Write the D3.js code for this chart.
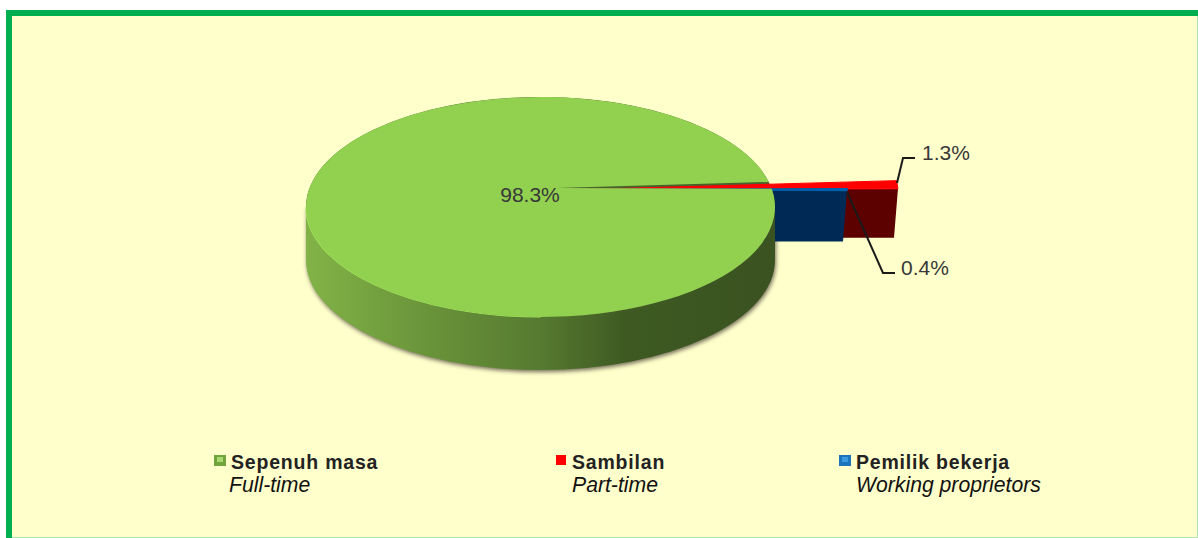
<!DOCTYPE html>
<html><head><meta charset="utf-8">
<script src="https://cdn.jsdelivr.net/npm/d3@7"></script>
<style>html,body{margin:0;padding:0;background:#fff;overflow:hidden}svg{display:block}text{font-family:"Liberation Sans",Arial,sans-serif}</style>
</head><body><svg id="c" width="1198" height="538"></svg>
<script>
const categories=["Sepenuh masa","Sambilan","Pemilik bekerja"];
const translations=["Full-time","Part-time","Working proprietors"];
const values=[98.3,1.3,0.4];
const valueLabels=["98.3%","1.3%","0.4%"];
const topColors=["#92d050","#ff0000","#0062ad"];
const sideColors=["#3c5520","#5c0000","#002b57"];

const svg=d3.select("#c");
const W=1198,H=538;
const defs=svg.append("defs");
const grad=defs.append("linearGradient").attr("id","side").attr("gradientUnits","userSpaceOnUse").attr("x1",306).attr("x2",775).attr("y1",0).attr("y2",0);
[[0,"#82b347"],[0.3,"#668f38"],[0.5,"#567a30"],[0.68,"#3e5a22"],[1,"#3a5220"]].forEach(s=>grad.append("stop").attr("offset",s[0]).attr("stop-color",s[1]));
const blur=defs.append("filter").attr("id","soft").attr("x","-5%").attr("y","-5%").attr("width","110%").attr("height","110%");
blur.append("feGaussianBlur").attr("stdDeviation",2);
const tint=defs.append("filter").attr("id","tiny").attr("x","-5%").attr("y","-20%").attr("width","110%").attr("height","140%");
tint.append("feGaussianBlur").attr("stdDeviation",0.45);

svg.append("rect").attr("width",W).attr("height",H).attr("fill","#fff");
svg.append("rect").attr("x",6).attr("y",10).attr("width",W-6).attr("height",H-10).attr("fill","#ffffcc");
svg.append("path").attr("d",`M${W-0.5},16V${H-0.5}H12`).attr("fill","none").attr("stroke","#a9e2b4").attr("stroke-width",1);
svg.append("path").attr("d",`M9,${H}V13H${W}`).attr("fill","none").attr("stroke","#00b050").attr("stroke-width",6);

// pie geometry
const rx=234.5,ry=110,ecx=540.5,ecy=207,depth=53,k=0.3;
const apex={x:556,y:188};
const startDeg=90.74;
const arcs=d3.pie().sort(null).value(d=>d).startAngle(startDeg*Math.PI/180).endAngle(startDeg*Math.PI/180+2*Math.PI)(values);
const ray=(o,a,r)=>{const t=a-Math.PI/2;return{x:o.x+r*Math.cos(t),y:o.y+k*r*Math.sin(t)};};
function hit(o,a){ // intersection of a ray from the apex with the top ellipse
  const t=a-Math.PI/2,dx=Math.cos(t),dy=k*Math.sin(t);
  const px=(o.x-ecx)/rx,py=(o.y-ecy)/ry,qx=dx/rx,qy=dy/ry;
  const A=qx*qx+qy*qy,B=2*(px*qx+py*qy),C=px*px+py*py-1;
  const s=(-B+Math.sqrt(B*B-4*A*C))/(2*A);
  return{x:o.x+s*dx,y:o.y+s*dy};
}
// shadow
svg.append("path").attr("d",`M${ecx-rx},${ecy+depth}A${rx},${ry} 0 0 0 ${ecx+rx},${ecy+depth}L${ecx+rx},${ecy}L${ecx-rx},${ecy}Z`)
  .attr("transform","translate(1,2)").attr("fill","#5b5544").attr("opacity",0.85).attr("filter","url(#soft)");

// exploded wedge side faces
const exploded=[{i:1,o:{x:565,y:190},r:333,w:1},{i:2,o:{x:600,y:189.5},r:247,w:1.4}];
exploded.forEach(e=>{
  const p=ray(e.o,arcs[e.i].endAngle,e.r);
  const d=e.i===1?49:51;
  const pts=[[e.o.x,e.o.y],[p.x,p.y],[p.x-4,p.y+d],[e.o.x,p.y+d]];
  svg.append("path").attr("d",d3.line()(pts)+"Z").attr("fill",sideColors[e.i]).attr("filter","url(#tiny)");
});

// pie body: dark floor visible in the notch, then the curved wall
svg.append("ellipse").attr("cx",ecx).attr("cy",ecy).attr("rx",rx).attr("ry",ry).attr("fill","#46632a");
svg.append("path").attr("d",`M${ecx-rx},${ecy}V${ecy+depth}A${rx},${ry} 0 0 0 ${ecx+rx},${ecy+depth}V${ecy}A${rx},${ry} 0 0 1 ${ecx-rx},${ecy}Z`).attr("fill","url(#side)");
svg.append("path").attr("d",`M${ecx-rx},${ecy}A${rx},${ry} 0 0 0 ${ecx},${ecy+ry}`).attr("fill","none").attr("stroke","#a6e85e").attr("stroke-width",1.2);

// exploded wedge tops
exploded.forEach(e=>{
  const a=ray(e.o,arcs[e.i].startAngle,e.r),b=ray(e.o,arcs[e.i].endAngle,e.r);
  svg.append("path").attr("d",`M${e.o.x},${e.o.y}L${a.x},${a.y}L${b.x},${b.y}Z`).attr("fill",topColors[e.i]).attr("stroke",topColors[e.i]).attr("stroke-width",e.w);
});

// main slice top
const g1=hit(apex,arcs[0].startAngle),g2=hit(apex,arcs[0].endAngle);
svg.append("path").attr("d",`M${apex.x},${apex.y}L${g1.x},${g1.y}A${rx},${ry} 0 1 1 ${g2.x},${g2.y}Z`).attr("fill",topColors[0]);

// leader lines
const leaders=[[[897,183],[903,158],[915,158]],[[847,192],[883,273],[895,273]]];
leaders.forEach(l=>svg.append("path").attr("d",d3.line()(l)).attr("fill","none").attr("stroke","#1a1a1a").attr("stroke-width",2));

// value labels
const labelPos=[[530,195],[946,153],[925,268]];
valueLabels.forEach((t,i)=>svg.append("text").attr("x",labelPos[i][0]).attr("y",labelPos[i][1]).attr("dy","0.35em").attr("text-anchor","middle").attr("font-size",21).attr("fill","#383838").text(t));

// legend
const legX=[214,556,839],txtX=[231,572,856],swW=[12,10,12];
const legendBody=["#6fa53c","#ff0000","#1c74bc"];
categories.forEach((c,i)=>{
  svg.append("rect").attr("x",legX[i]).attr("y",455).attr("width",swW[i]).attr("height",swW[i]-(i===1?0:1)).attr("fill",legendBody[i]);
  if(i!==1)svg.append("rect").attr("x",legX[i]+3).attr("y",457).attr("width",6).attr("height",5).attr("fill",i===0?"#a9d870":"#3b9ade");
  svg.append("text").attr("x",txtX[i]).attr("y",469).attr("font-size",19.5).attr("font-weight","bold").attr("letter-spacing",0.8).attr("fill","#222").text(c);
  svg.append("text").attr("x",i===0?229:txtX[i]).attr("y",492).attr("font-size",21.2).attr("font-style","italic").attr("fill","#111").text(translations[i]);
});
</script></body></html>
